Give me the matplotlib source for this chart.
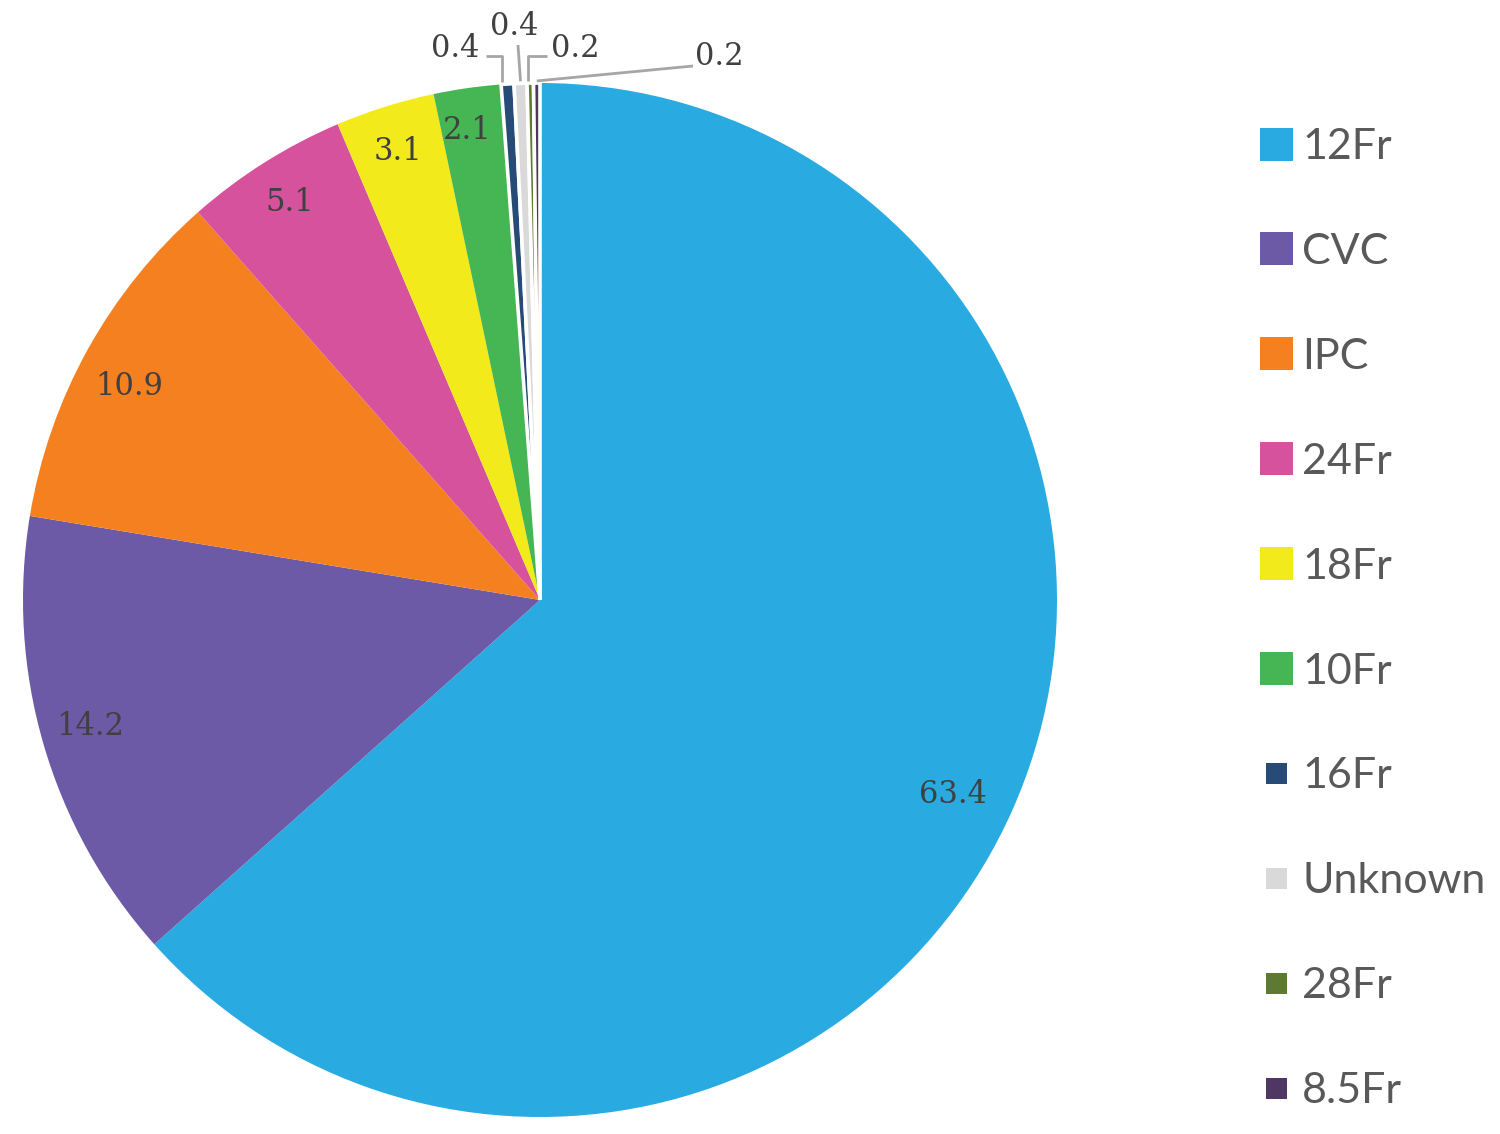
import matplotlib
matplotlib.use("Agg")
import matplotlib.pyplot as plt
from matplotlib.patches import Rectangle
import numpy as np

categories = ["12Fr", "CVC", "IPC", "24Fr", "18Fr", "10Fr", "16Fr", "Unknown", "28Fr", "8.5Fr"]
values = [63.4, 14.2, 10.9, 5.1, 3.1, 2.1, 0.4, 0.4, 0.2, 0.2]
labels = ["63.4", "14.2", "10.9", "5.1", "3.1", "2.1", "0.4", "0.4", "0.2", "0.2"]
colors = ["#29ABE2", "#6D5AA6", "#F58020", "#D6529C", "#F2EA1B", "#46B553",
          "#264B77", "#D9D9D9", "#5E7A30", "#4E3863"]

W, H = 1500, 1134
fig = plt.figure(figsize=(W / 100, H / 100), dpi=100)
fig.patch.set_facecolor("white")

cx, cy, R = 540, 600, 517
ax = fig.add_axes([(cx - R) / W, (H - cy - R) / H, 2 * R / W, 2 * R / H])

wedges, _ = ax.pie(values, colors=colors, startangle=90, counterclock=False,
                   radius=1.0, wedgeprops=dict(linewidth=0))
# thin white separators around the tiny slices
for w in wedges[6:]:
    w.set_edgecolor("white")
    w.set_linewidth(2.6)
ax.set_xlim(-1, 1)
ax.set_ylim(-1, 1)
ax.set_aspect("auto")
ax.axis("off")

FS = 22
label_font = dict(family="DejaVu Serif", fontsize=FS, color="#404040")
half_digit = 0.729 * FS * 100 / 72 / 2 / R  # half digit height in data units

def put(x, y, s):
    ax.text(x, y - half_digit, s, ha="center", va="baseline", clip_on=False, **label_font)

total = sum(values)
cum = np.cumsum([0] + values)
mids = [90 - 360 * (cum[i] + values[i] / 2) / total for i in range(len(values))]

# large slices: labels inside near the rim (radius and small angular nudge)
label_r = [0.881, 0.902, 0.898, 0.912, 0.915, 0.925]
label_nudge = [-0.8, -0.8, 1.2, -0.2, 0.0, 0.7]
for i in range(6):
    a = np.deg2rad(mids[i] + label_nudge[i])
    r = label_r[i]
    put(r * np.cos(a), r * np.sin(a), labels[i])

def d(px, py):
    return (px - cx) / R, (cy - py) / R

lead_col = "#A6A6A6"
small = [
    (6, (455.5, 46), [(486, 56), (502, 56)]),
    (7, (514.5, 24), [(518, 45)]),
    (8, (575, 46), [(547, 56), (528, 56)]),
    (9, (719.5, 54), [(693, 66)]),
]
for idx, tpos, path in small:
    a = np.deg2rad(mids[idx])
    ex, ey = np.cos(a), np.sin(a)
    pts = [d(*p) for p in path]
    xs = [p[0] for p in pts]
    ys = [p[1] for p in pts]
    if len(pts) == 2:
        xs.append(xs[-1]); ys.append(ey + 0.004)
    else:
        xs.append(ex); ys.append(ey + 0.004)
    ax.plot(xs, ys, color=lead_col, lw=2, clip_on=False, solid_capstyle="butt")
    tx, ty = d(*tpos)
    put(tx, ty, labels[idx])

# legend in pixel space
lax = fig.add_axes([0, 0, 1, 1])
lax.set_xlim(0, W)
lax.set_ylim(H, 0)
lax.axis("off")
lax.patch.set_alpha(0)
sizes = [33, 33, 33, 33, 33, 33, 21, 21, 21, 21]
y0, dy = 144, 104.9
for i, (name, col) in enumerate(zip(categories, colors)):
    y = y0 + i * dy
    s = sizes[i]
    lax.add_patch(Rectangle((1276 - s / 2, y - s / 2), s, s, facecolor=col, edgecolor="none"))
    lax.text(1302, y + 15, name, ha="left", va="baseline", fontsize=31,
             family="Lato", color="#595959")

fig.savefig("out.png", dpi=100, facecolor="white")
